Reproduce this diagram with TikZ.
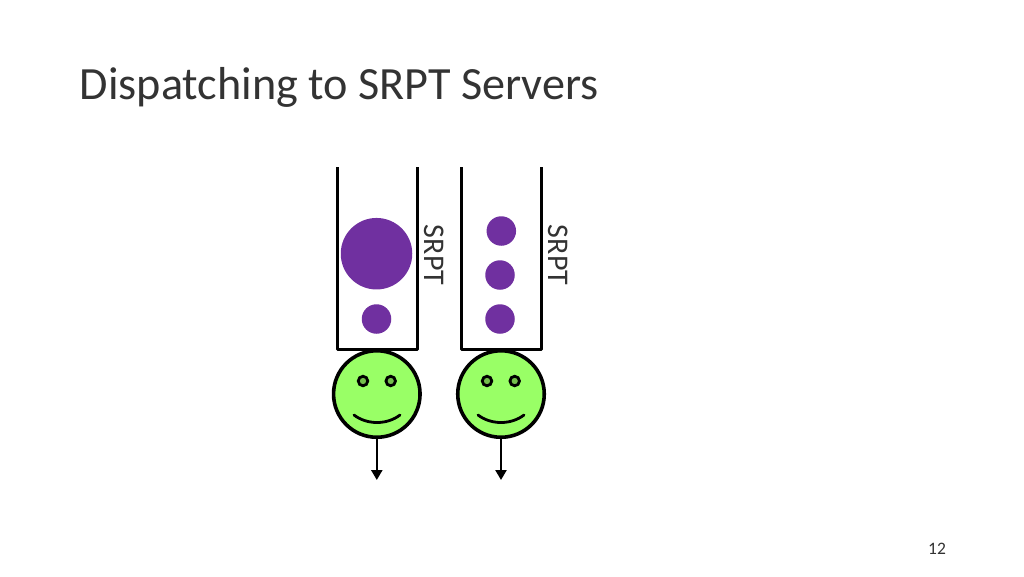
\documentclass[tikz,border=0pt]{standalone}
\usepackage{fontspec}
\setmainfont{Carlito}
\usetikzlibrary{arrows.meta}
\definecolor{job}{HTML}{7030A0}
\definecolor{facegreen}{HTML}{99FF66}
\definecolor{inktext}{HTML}{333333}
\tikzset{
  x=1pt,y=-1pt,
  wall/.style={draw=black,line width=3pt,line cap=butt,line join=round},
  jobdot/.style={circle,fill=job,draw=none,inner sep=0pt,minimum size=#1},
  face/.style={circle,draw=black,line width=3.6pt,fill=facegreen,inner sep=0pt,outer sep=0pt,minimum size=86.5pt},
  eye/.style={circle,draw=black,line width=2.8pt,fill=facegreen!75!black,inner sep=0pt,minimum size=9.5pt},
  smile/.style={draw=black,line width=2.8pt,line cap=round},
  outflow/.style={draw=black,line width=2.4pt,-{Triangle[length=10pt,width=11pt]}},
  policy/.style={rotate=-90,font=\fontsize{30}{34}\selectfont,text=inktext,inner sep=0pt},
}
\begin{document}
\begin{tikzpicture}
\useasboundingbox (0,0) rectangle (1024,576);
\node[anchor=base west,inner sep=0pt,font=\fontsize{46.2}{54}\selectfont,text=inktext] (title) at (79.5,99) {Dispatching to SRPT Servers};
% queue 1
\draw[wall] (337,167) -- (337,349) -- (417,349) -- (417,167);
\node[jobdot=71.5pt] (j1) at (376.5,253.7) {};
\node[jobdot=29.5pt] (j2) at (376.5,319) {};
\node[policy] (p1) at (434.5,255) {SRPT};
\node[face] (f1) at (376.8,394) {};
\node[eye] (e1) at (363,381) {};
\node[eye] (e2) at (390.7,381) {};
\draw[smile] (354,415) .. controls (367,425) and (387,425) .. (400,415);
\coordinate (o1) at (376.8,480);
\draw[outflow] (f1.south) -- (o1);
% queue 2
\draw[wall] (461.5,167) -- (461.5,349) -- (541.5,349) -- (541.5,167);
\node[jobdot=29.5pt] (j3) at (501.3,231) {};
\node[jobdot=29.5pt] (j4) at (500,275) {};
\node[jobdot=29.5pt] (j5) at (500,319) {};
\node[policy] (p2) at (558.5,255) {SRPT};
\node[face] (f2) at (501,394) {};
\node[eye] (e3) at (487,381) {};
\node[eye] (e4) at (514.7,381) {};
\draw[smile] (478,415) .. controls (491,425) and (511,425) .. (524,415);
\coordinate (o2) at (501,480);
\draw[outflow] (f2.south) -- (o2);
\node[inner sep=0pt,font=\fontsize{17.5}{20}\selectfont,text=inktext] (num) at (937,549) {12};
\end{tikzpicture}
\end{document}
